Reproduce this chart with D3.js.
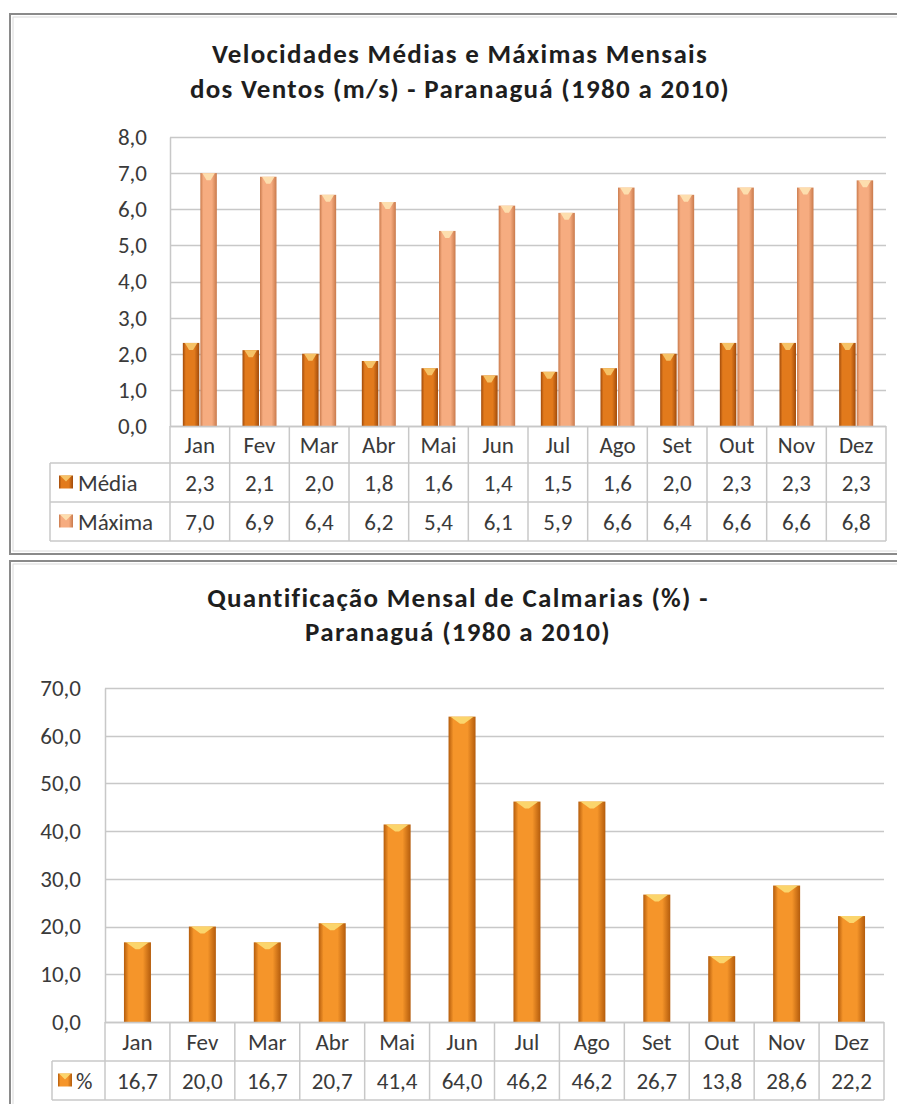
<!DOCTYPE html>
<html><head><meta charset="utf-8">
<script src="https://cdn.jsdelivr.net/npm/d3@7"></script>
<style>
html,body{margin:0;padding:0;background:#fff;}
svg{display:block;font-family:Carlito,Lato,"Noto Sans",sans-serif;}
</style></head>
<body>
<script>
const months = ["Jan","Fev","Mar","Abr","Mai","Jun","Jul","Ago","Set","Out","Nov","Dez"];
const media  = [2.3,2.1,2.0,1.8,1.6,1.4,1.5,1.6,2.0,2.3,2.3,2.3];
const maxima = [7.0,6.9,6.4,6.2,5.4,6.1,5.9,6.6,6.4,6.6,6.6,6.8];
const calm   = [16.7,20.0,16.7,20.7,41.4,64.0,46.2,46.2,26.7,13.8,28.6,22.2];
const ticksTop = [0,1,2,3,4,5,6,7,8];
const ticksBot = [0,10,20,30,40,50,60,70];
const seriesTop = ["Média","Máxima"];
const seriesBot = ["%"];
const titleTop = ["Velocidades Médias e Máximas Mensais","dos Ventos (m/s) - Paranaguá (1980 a 2010)"];
const titleBot = ["Quantificação Mensal de Calmarias (%) -","Paranaguá (1980 a 2010)"];

const W=897,H=1104;
const svg=d3.select("body").append("svg").attr("width",W).attr("height",H);
const defs=svg.append("defs");
function grad(id,edge,mid){
  const g=defs.append("linearGradient").attr("id",id).attr("x1","0").attr("x2","1").attr("y1","0").attr("y2","0");
  g.append("stop").attr("offset","0%").attr("stop-color",edge);
  g.append("stop").attr("offset","18%").attr("stop-color",mid);
  g.append("stop").attr("offset","70%").attr("stop-color",mid);
  g.append("stop").attr("offset","100%").attr("stop-color",edge);
}
grad("gMed","#a04a0a","#e27a1c");
grad("gMax","#c97a4c","#f6ac80");
grad("gBot","#b45c0c","#f5952a");
const fills={"Média":"url(#gMed)","Máxima":"url(#gMax)","%":"url(#gBot)"};
const tops={"Média":"#f7c66a","Máxima":"#fde0b0","%":"#fbd870"};

const fmt=v=>d3.format(".1f")(v).replace(".",",");
const gridC="#c8c8c8", txtC="#3a3a3a";
const FF="Carlito,Lato,'Noto Sans',sans-serif";

function bar(g,x,y,w,h,s){
  g.append("rect").attr("x",x).attr("y",y).attr("width",w).attr("height",h).attr("fill",fills[s]);
  const ch=Math.min(7,h);
  g.append("path").attr("d",`M${x+2},${y} L${x+w-2},${y} L${x+w/2+2},${y+ch} L${x+w/2-2},${y+ch} Z`)
    .attr("fill",tops[s]).attr("opacity",0.95);
}
function key(g,x,y,s){
  g.append("rect").attr("x",x).attr("y",y).attr("width",14).attr("height",13).attr("fill",fills[s]);
  g.append("path").attr("d",`M${x+1},${y} L${x+13},${y} L${x+7},${y+6} Z`).attr("fill",tops[s]).attr("opacity",0.95);
}

function chart(o){
  const g=svg.append("g");
  g.append("rect").attr("x",o.fx).attr("y",o.fy).attr("width",W).attr("height",o.fh)
    .attr("fill","#fff").attr("stroke","#8a8a8a").attr("stroke-width",2);
  g.append("rect").attr("x",o.fx+3).attr("y",o.fy+3).attr("width",W).attr("height",o.fh-6)
    .attr("fill","none").attr("stroke","#dadada").attr("stroke-width",1);
  o.title.forEach((t,i)=>g.append("text").attr("x",o.tcx).attr("y",o.ty[i]).attr("text-anchor","middle")
    .attr("font-size",o.tfs).attr("font-weight","bold").attr("letter-spacing",1.3).attr("fill","#1e1e1e").text(t));
  const x=d3.scaleBand().domain(months).range([o.x0,o.x1]);
  const y=d3.scaleLinear().domain([0,o.ymax]).range([o.yb,o.yt]);
  g.append("g").selectAll("line").data(o.ticks).join("line")
    .attr("x1",o.x0).attr("x2",o.x1).attr("y1",d=>Math.round(y(d))+0.5).attr("y2",d=>Math.round(y(d))+0.5)
    .attr("stroke",gridC).attr("stroke-width",1.5);
  const ya=g.append("g").attr("transform",`translate(${o.x0},0)`)
    .call(d3.axisLeft(y).tickValues(o.ticks).tickFormat(fmt).tickSize(0).tickPadding(o.x0-o.ylx));
  ya.select(".domain").attr("stroke",gridC).attr("stroke-width",1.5);
  ya.selectAll("text").attr("font-size",o.fs).attr("fill",txtC).attr("font-family",FF);
  const inner=d3.scaleBand().domain(o.series).range([0,o.cw]).paddingInner(o.series.length>1?0.06:0);
  const bg=g.append("g");
  months.forEach((m,i)=>{
    o.series.forEach((s,j)=>{
      const v=o.data[j][i];
      const bx=x(m)+(x.bandwidth()-o.cw)/2+inner(s);
      bar(bg,bx,y(v),inner.bandwidth(),y(0)-y(v),s);
    });
  });
  const tb=g.append("g");
  const rows=o.rowY;
  const tEnd=rows[rows.length-1];
  tb.append("line").attr("x1",o.x0).attr("x2",o.x1).attr("y1",o.yb+0.5).attr("y2",o.yb+0.5).attr("stroke",gridC).attr("stroke-width",1.5);
  rows.slice(1).forEach(ry=>tb.append("line").attr("x1",o.lx).attr("x2",o.x1).attr("y1",ry).attr("y2",ry).attr("stroke",gridC).attr("stroke-width",1.5));
  months.forEach(m=>tb.append("line").attr("x1",x(m)).attr("x2",x(m)).attr("y1",o.yb).attr("y2",tEnd).attr("stroke",gridC).attr("stroke-width",1.5));
  tb.append("line").attr("x1",o.x1).attr("x2",o.x1).attr("y1",o.yb).attr("y2",tEnd).attr("stroke",gridC).attr("stroke-width",1.5);
  tb.append("line").attr("x1",o.lx).attr("x2",o.lx).attr("y1",rows[1]).attr("y2",tEnd).attr("stroke",gridC).attr("stroke-width",1.5);
  tb.selectAll("text.cat").data(months).join("text").attr("class","cat")
    .attr("x",d=>x(d)+x.bandwidth()/2).attr("y",(rows[0]+rows[1])/2).attr("dy","0.36em")
    .attr("text-anchor","middle").attr("font-size",o.fs).attr("fill",txtC).text(d=>d);
  o.series.forEach((s,j)=>{
    const cy=(rows[j+1]+rows[j+2])/2;
    key(tb,o.lx+o.kx,cy-7,s);
    tb.append("text").attr("x",o.lx+o.kx+o.kt).attr("y",cy).attr("dy","0.36em").attr("font-size",o.fs).attr("fill",txtC).text(s);
    months.forEach((m,i)=>tb.append("text").attr("x",x(m)+x.bandwidth()/2).attr("y",cy).attr("dy","0.36em")
      .attr("text-anchor","middle").attr("font-size",o.fs).attr("fill",txtC).text(fmt(o.data[j][i])));
  });
}

chart({fx:10,fy:14,fh:540,title:titleTop,tcx:460,ty:[63,98],tfs:27,
  x0:170,x1:886,yt:137,yb:426,ymax:8,ticks:ticksTop,ylx:147,fs:23,
  series:seriesTop,data:[media,maxima],cw:34,
  rowY:[426,463,502,541],lx:50,kx:9,kt:19});
chart({fx:10,fy:561,fh:600,title:titleBot,tcx:458,ty:[607,641],tfs:27,
  x0:105,x1:884,yt:688,yb:1022,ymax:70,ticks:ticksBot,ylx:81,fs:23,
  series:seriesBot,data:[calm],cw:27,
  rowY:[1022,1061,1100],lx:52,kx:6,kt:18});
</script>
</body></html>
